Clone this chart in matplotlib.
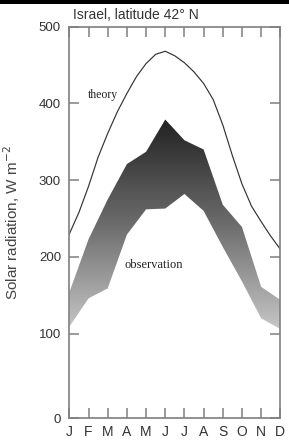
import matplotlib
matplotlib.use("Agg")
import matplotlib.pyplot as plt
import numpy as np
from matplotlib.colors import LinearSegmentedColormap
from matplotlib.patches import Rectangle

# month labels and values (W m-2)
months = ['J', 'F', 'M', 'A', 'M', 'J', 'J', 'A', 'S', 'O', 'N', 'D']
month_idx = np.arange(len(months))

# theory curve, sampled every half month
theory_x = np.arange(0, 11.5, 0.5)
theory = [230, 258, 292, 330, 361, 389, 413, 435, 452, 464, 468, 462,
          453, 441, 426, 405, 372, 332, 295, 266, 246, 227, 210]

# observed range (band)
obs_upper = [154, 223, 275, 321, 337, 379, 352, 340, 268, 239, 161, 144]
obs_lower = [109, 146, 159, 229, 262, 263, 282, 260, 213, 168, 120, 106]

ytick_vals = [100, 200, 300, 400, 500]
ymin, ymax = -10, 500

plt.rcParams['font.family'] = ['Liberation Sans', 'DejaVu Sans']

fig = plt.figure(figsize=(2.89, 4.41), dpi=100)
ax = fig.add_axes([0.240, 0.052, 0.730, 0.8875])

# gradient-filled observation band
band = ax.fill_between(month_idx, obs_lower, obs_upper, color='none', lw=0)
grey = LinearSegmentedColormap.from_list('band', ['#c6c6c6', '#6c6c6c', '#222222'])
grad = np.linspace(0, 1, 256).reshape(-1, 1)
im = ax.imshow(grad, extent=[0, 11, min(obs_lower), max(obs_upper)], origin='lower',
               aspect='auto', cmap=grey, interpolation='bicubic', zorder=1)
im.set_clip_path(band.get_paths()[0], transform=ax.transData)

ax.plot(theory_x, theory, color='#333333', lw=0.85, zorder=2)

ax.text(1.76, 411, 'theory', family='Liberation Serif', fontsize=8.5,
        ha='center', va='center', color='#222222')
ax.text(4.38, 189, 'observation', family='Liberation Serif', fontsize=9,
        ha='center', va='center', color='#222222')

ax.set_xlim(0, 11)
ax.set_ylim(ymin, ymax)
ax.set_xticks(month_idx)
ax.set_xticklabels(months)
# the source draws "0" at the baseline of the frame
ax.set_yticks([ymin] + ytick_vals)
ax.set_yticklabels(['0'] + [str(v) for v in ytick_vals])

for s in ax.spines.values():
    s.set_color('#7f7f7f')
    s.set_linewidth(1.2)
ax.tick_params(axis='both', direction='in', length=7, width=1.1, color='#7f7f7f',
               labelcolor='#333333')
ax.tick_params(axis='x', top=True, pad=5, labelsize=10)
ax.tick_params(axis='y', right=True, pad=6, labelsize=9.5)

ax.set_ylabel('Solar radiation, W m$^{-2}$', fontsize=11, color='#444444')
ax.yaxis.set_label_coords(-0.225, 0.5)

fig.text(0.47, 0.966, 'Israel, latitude 42\u00b0 N', ha='center', va='center',
         fontsize=10, color='#333333')
fig.add_artist(Rectangle((0, 1 - 3.5 / 441), 1, 3 / 441, transform=fig.transFigure,
                         color='black', lw=0))

fig.savefig('out.png', dpi=100)
